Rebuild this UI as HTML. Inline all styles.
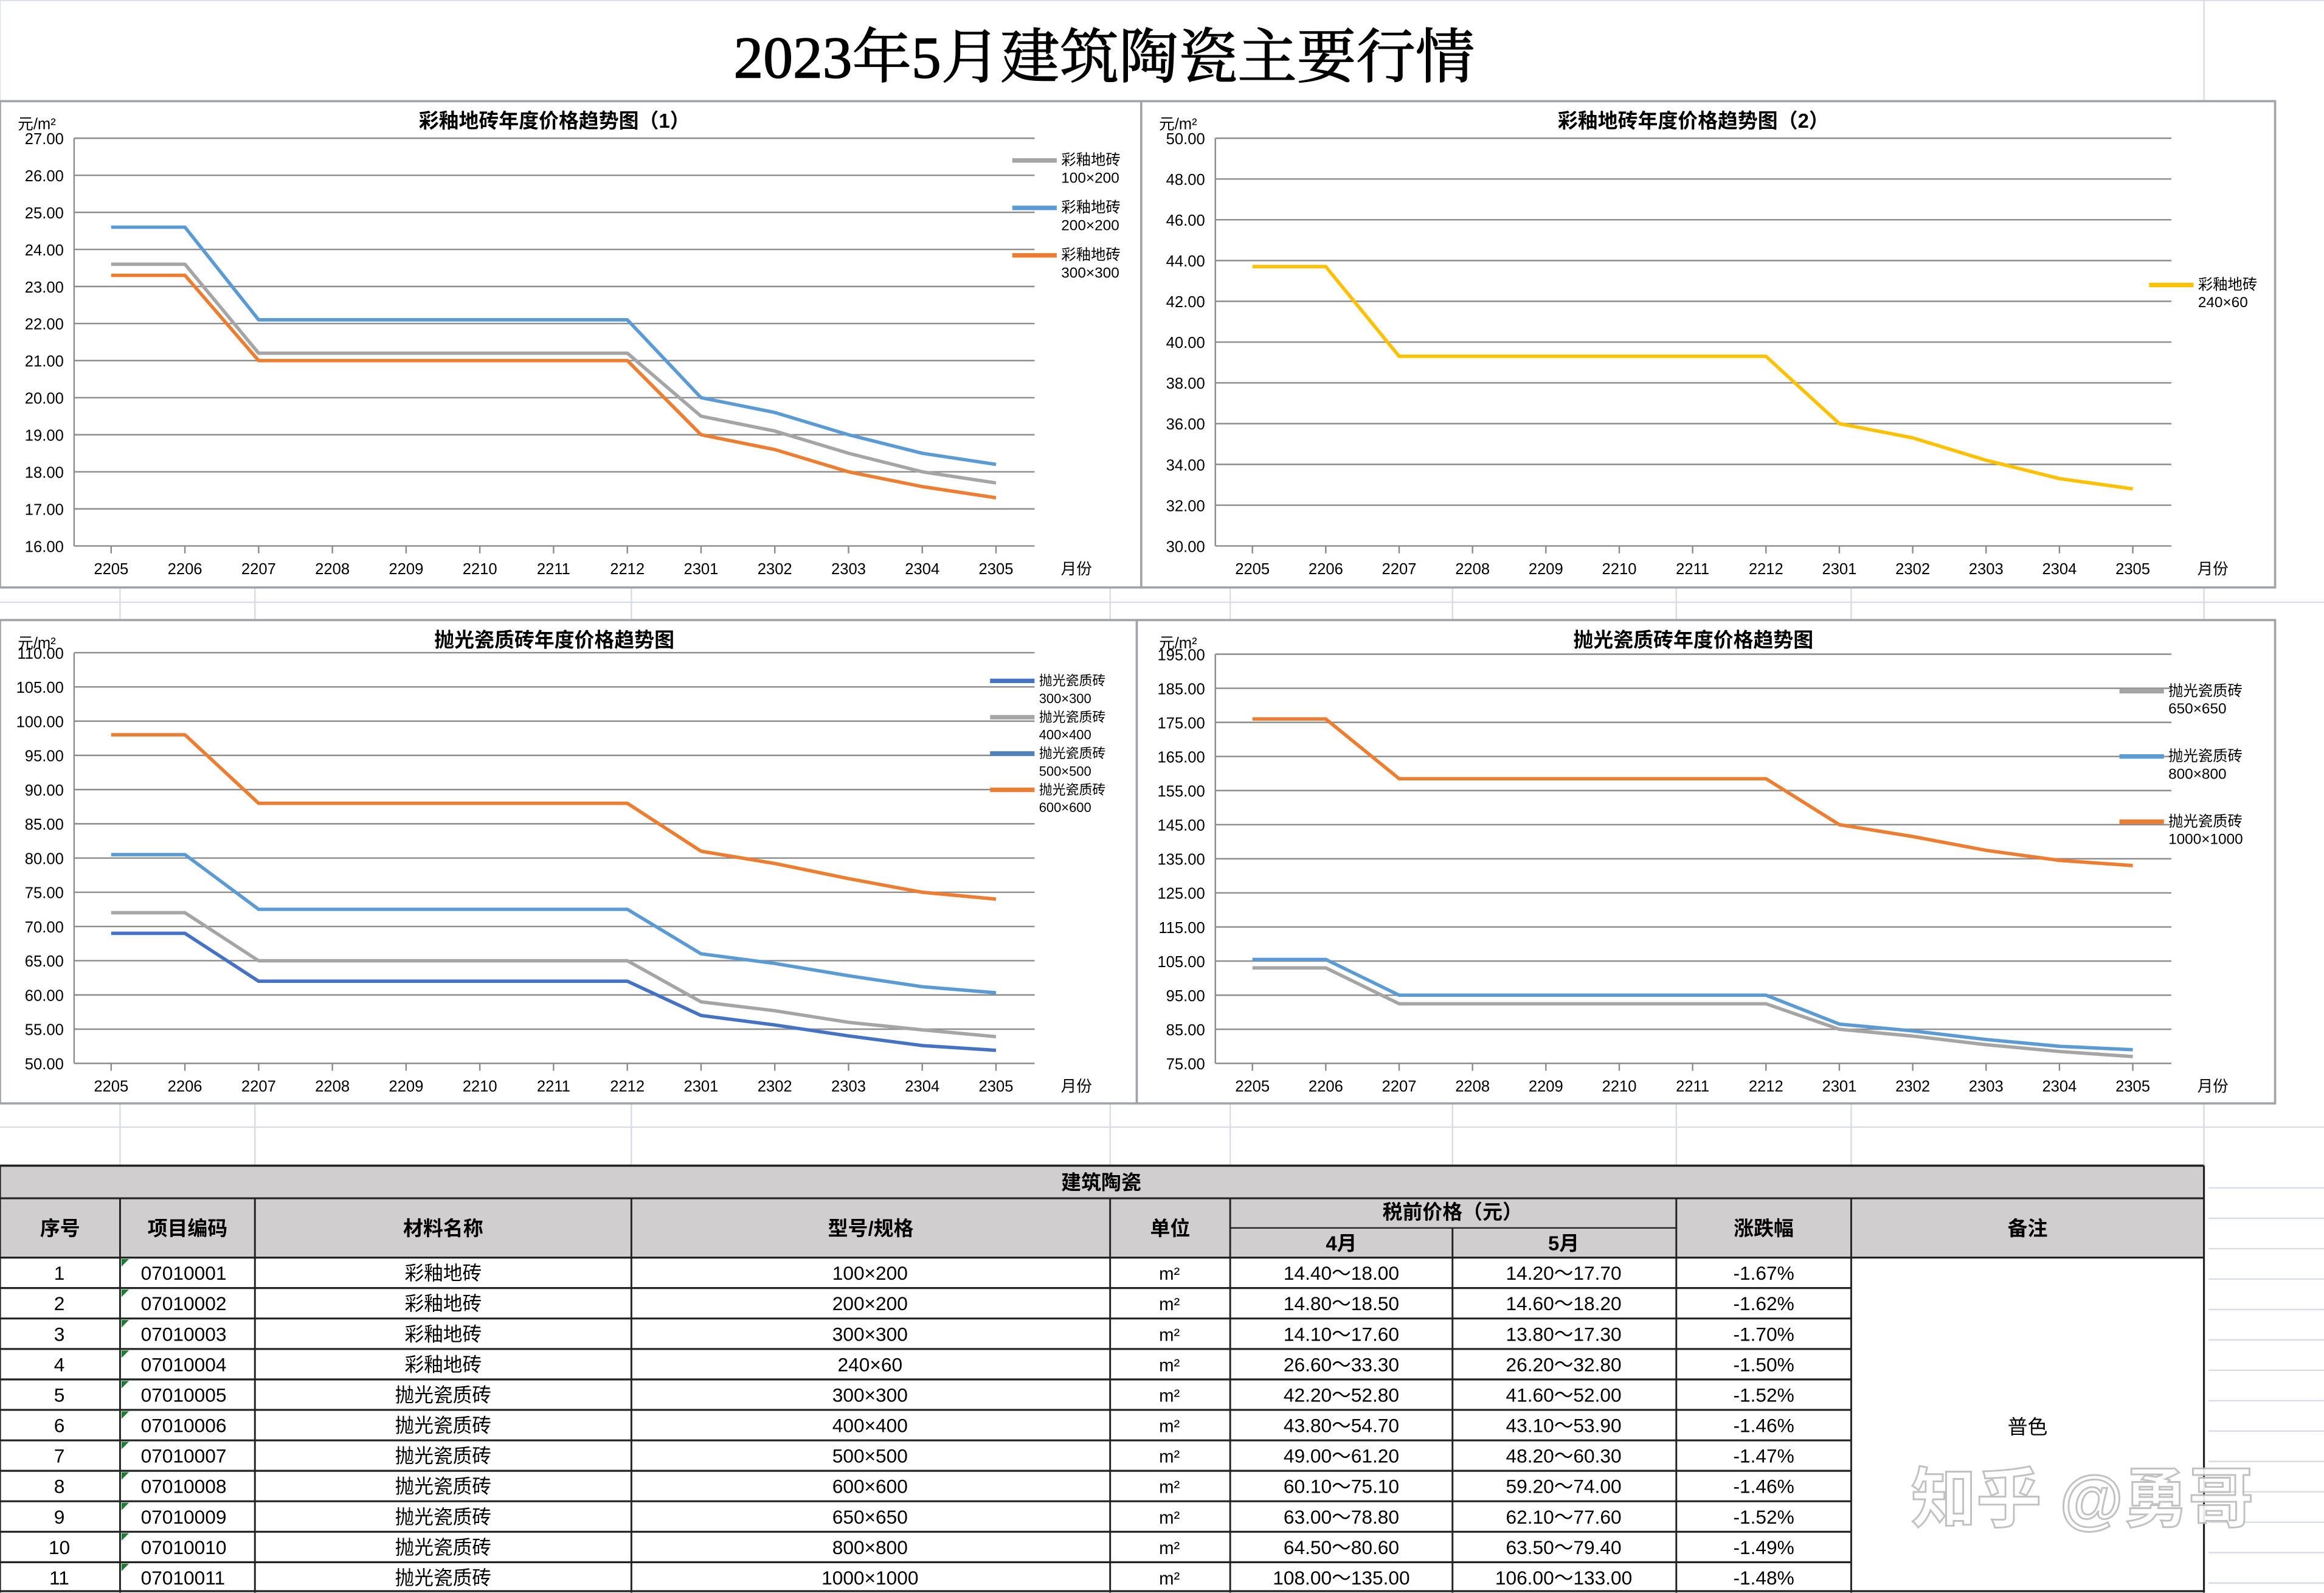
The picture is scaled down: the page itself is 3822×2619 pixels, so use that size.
<!DOCTYPE html>
<html><head><meta charset="utf-8">
<style>
html,body{margin:0;padding:0;background:#fff;width:3822px;height:2619px;overflow:hidden}
svg{display:block}
text{font-family:"Liberation Sans","Noto Sans CJK SC",sans-serif}
text.ttl{font-family:"Liberation Serif","Noto Serif CJK SC",serif}
</style></head>
<body>
<svg id="s" width="3822" height="2619" viewBox="0 0 1568 1074" xmlns="http://www.w3.org/2000/svg"></svg>
<script>
var S=document.getElementById('s'),h='';
function L(x1,y1,x2,y2,c,w){h+='<line x1="'+x1+'" y1="'+y1+'" x2="'+x2+'" y2="'+y2+'" stroke="'+c+'" stroke-width="'+(w||1)+'"/>';}
function T(x,y,t,sz,a,extra){h+='<text x="'+x+'" y="'+y+'" font-size="'+sz+'" text-anchor="'+(a||'middle')+'" '+(extra||'')+'>'+t+'</text>';}
function R(x,y,w,hh,f,s,sw){h+='<rect x="'+x+'" y="'+y+'" width="'+w+'" height="'+hh+'" fill="'+f+'" stroke="'+(s||'none')+'" stroke-width="'+(sw||1)+'"/>';}
[81,172,426,749,830,980,1131,1249,1487].forEach(function(x){L(x,396,x,418,'#d8dde6');L(x,744,x,786,'#d8dde6');});
L(0,406,1568,406,'#d8dde6');L(0,760,1568,760,'#d8dde6');L(0,0,1568,0,'#d8dde6');L(0,0,0,68,'#d8dde6');
L(1487,0,1487,1074,'#d8dde6');
for(var y=22;y<1074;y+=20.5){if(y>786)L(1490,y,1568,y,'#d8dde6');}
T(745,52,'2023年5月建筑陶瓷主要行情',40,'middle','class="ttl" stroke="#000" stroke-width="0.6"');
var cats=['2205','2206','2207','2208','2209','2210','2211','2212','2301','2302','2303','2304','2305'];
function chart(bx,by,bw,bh,title,px0,px1,py0,py1,ymin,ymax,step,x0,dx,series,legend,legY,legStep,legX){
 R(bx,by,bw,bh,'#fff','#a0a4aa',1.5);
 T((px0+px1)/2,by+18,title,13.5,'middle','font-weight="bold"');
 T(px0-38,by+19,'元/m²',10.5,'start');
 var n=Math.round((ymax-ymin)/step);
 for(var i=0;i<=n;i++){var yy=py1-(py1-py0)*i/n;L(px0,yy,px1,yy,'#8c8c8c',1);T(px0-7,yy+4,(ymin+i*step).toFixed(2),10.5,'end');}
 L(px0,py0,px0,py1,'#8c8c8c');
 for(var j=0;j<13;j++){var xx=x0+dx*j;L(xx,py1,xx,py1+5,'#8c8c8c');T(xx,py1+19,cats[j],10.5);}
 T(x0+dx*13-6,py1+19,'月份',10.5,'start');
 series.forEach(function(s){var pts=s.d.map(function(v,k){return (x0+dx*k).toFixed(1)+','+(py1-(v-ymin)/(ymax-ymin)*(py1-py0)).toFixed(1)}).join(' ');
  h+='<polyline points="'+pts+'" fill="none" stroke="'+s.c+'" stroke-width="2.3" stroke-linejoin="round"/>';});
 legend.forEach(function(g,k){var ly=legY+k*legStep;L(legX,ly,legX+30,ly,g[0],3);T(legX+33,ly+3,g[1],legend.length>3?9:10,'start');T(legX+33,ly+15,g[2],legend.length>3?9:10,'start');});
}
function mid(v){return [v,v,v,v,v,v];}
chart(0,68,770,328,'彩釉地砖年度价格趋势图（1）',50,698,93,368,16,27,1,75,49.75,[
 {c:'#a5a5a5',d:[23.6,23.6].concat(mid(21.2),[19.5,19.1,18.5,18.0,17.7])},
 {c:'#5b9bd5',d:[24.6,24.6].concat(mid(22.1),[20.0,19.6,19.0,18.5,18.2])},
 {c:'#ed7d31',d:[23.3,23.3].concat(mid(21.0),[19.0,18.6,18.0,17.6,17.3])}],
 [['#a5a5a5','彩釉地砖','100×200'],['#5b9bd5','彩釉地砖','200×200'],['#ed7d31','彩釉地砖','300×300']],108,32,683);
chart(770,68,765,328,'彩釉地砖年度价格趋势图（2）',820,1465,93,368,30,50,2,845,49.5,[
 {c:'#ffc000',d:[43.7,43.7].concat(mid(39.3),[36.0,35.3,34.2,33.3,32.8])}],
 [['#ffc000','彩釉地砖','240×60']],192,0,1450);
chart(0,418,767,326,'抛光瓷质砖年度价格趋势图',50,698,440,717,50,110,5,75,49.75,[
 {c:'#ed7d31',d:[98,98].concat(mid(88),[81,79.2,77,75,74])},
 {c:'#5b9bd5',d:[80.5,80.5].concat(mid(72.5),[66,64.6,62.8,61.2,60.3])},
 {c:'#a5a5a5',d:[72,72].concat(mid(65),[59,57.7,56,54.9,53.9])},
 {c:'#4472c4',d:[69,69].concat(mid(62),[57,55.6,54,52.6,51.9])}],
 [['#4472c4','抛光瓷质砖','300×300'],['#a5a5a5','抛光瓷质砖','400×400'],['#4f81bd','抛光瓷质砖','500×500'],['#ed7d31','抛光瓷质砖','600×600']],459,24.5,668);
chart(767,418,768,326,'抛光瓷质砖年度价格趋势图',820,1465,441,717,75,195,10,845,49.5,[
 {c:'#ed7d31',d:[176,176].concat(mid(158.5),[145,141.5,137.5,134.5,133])},
 {c:'#5b9bd5',d:[105.5,105.5].concat(mid(95),[86.5,84.5,82,80,79])},
 {c:'#a5a5a5',d:[103,103].concat(mid(92.5),[85,83,80.5,78.5,77])}],
 [['#a5a5a5','抛光瓷质砖','650×650'],['#5b9bd5','抛光瓷质砖','800×800'],['#ed7d31','抛光瓷质砖','1000×1000']],466,44,1430);
var cx=[0,81,172,426,749,830,980,1131,1249,1487];
R(0,786,1487,22,'#d0cece');R(0,808,1487,40,'#d0cece');
T(743,802,'建筑陶瓷',13.5,'middle','font-weight="bold"');
var hd=['序号','项目编码','材料名称','型号/规格','单位',null,null,'涨跌幅','备注'];
hd.forEach(function(t,i){if(t)T((cx[i]+cx[i+1])/2,833,t,13.5,'middle','font-weight="bold"');});
T(980,822,'税前价格（元）',13.5,'middle','font-weight="bold"');
T(905,843,'4月',13.5,'middle','font-weight="bold"');T(1055,843,'5月',13.5,'middle','font-weight="bold"');
var rows=[['1','07010001','彩釉地砖','100×200','14.40～18.00','14.20～17.70','-1.67%'],
['2','07010002','彩釉地砖','200×200','14.80～18.50','14.60～18.20','-1.62%'],
['3','07010003','彩釉地砖','300×300','14.10～17.60','13.80～17.30','-1.70%'],
['4','07010004','彩釉地砖','240×60','26.60～33.30','26.20～32.80','-1.50%'],
['5','07010005','抛光瓷质砖','300×300','42.20～52.80','41.60～52.00','-1.52%'],
['6','07010006','抛光瓷质砖','400×400','43.80～54.70','43.10～53.90','-1.46%'],
['7','07010007','抛光瓷质砖','500×500','49.00～61.20','48.20～60.30','-1.47%'],
['8','07010008','抛光瓷质砖','600×600','60.10～75.10','59.20～74.00','-1.46%'],
['9','07010009','抛光瓷质砖','650×650','63.00～78.80','62.10～77.60','-1.52%'],
['10','07010010','抛光瓷质砖','800×800','64.50～80.60','63.50～79.40','-1.49%'],
['11','07010011','抛光瓷质砖','1000×1000','108.00～135.00','106.00～133.00','-1.48%']];
var rh=(1074-848)/11;
rows.forEach(function(r,k){var y=848+rh*k,ty=y+15;
 T(40,ty,r[0],13);T(95,ty,r[1],13,'start');T(299,ty,r[2],13);T(587,ty,r[3],13);T(789,ty,'m²',12);
 T(905,ty,r[4],13);T(1055,ty,r[5],13);T(1190,ty,r[6],13);
 h+='<polygon points="82,'+(y+1)+' 87,'+(y+1)+' 82,'+(y+6)+'" fill="#1e7b34"/>';
 L(0,y,1249,y,'#222',1.3);});
T(1368,967,'普色',13.5);
L(0,786,1487,786,'#222',1.5);L(0,808,1487,808,'#222',1.3);L(0,848,1487,848,'#222',1.3);L(830,828,1131,828,'#222',1);L(0,1073,1487,1073,'#222',1.3);
cx.forEach(function(x,i){if(i==0||i==9)L(x,786,x,1074,'#222',1.3);else if(i==6)L(x,828,x,1074,'#222',1.2);else L(x,808,x,1074,'#222',1.2);});
T(1405,1026,'知乎 @勇哥',44,'middle','fill="#ffffff" stroke="#bbbbbb" stroke-width="1.2" font-weight="bold" opacity="0.9"');
S.innerHTML=h;
</script>
</body></html>
